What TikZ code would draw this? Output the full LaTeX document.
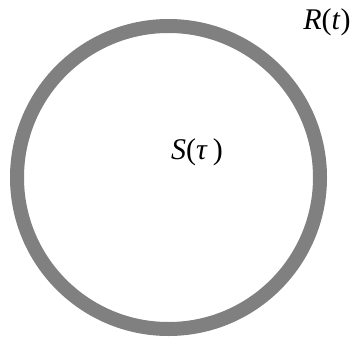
\documentclass[tikz,border=0pt]{standalone}
\usepackage{fontspec}
\setmainfont{Liberation Serif}
\usepackage{tikz}

\begin{document}
\begin{tikzpicture}[x=1pt,y=-1pt,line width=14pt,font=\fontsize{30}{36}\selectfont]
\useasboundingbox (0,0) rectangle (353,337);
\draw[color=gray] (168.5,177.5) circle (151.5);
\node (S) at (197,152) {\textit{S}(\textit{τ}\,)};
\node (R) at (327,22) {\textit{R}(\textit{t})};
\end{tikzpicture}
\end{document}
